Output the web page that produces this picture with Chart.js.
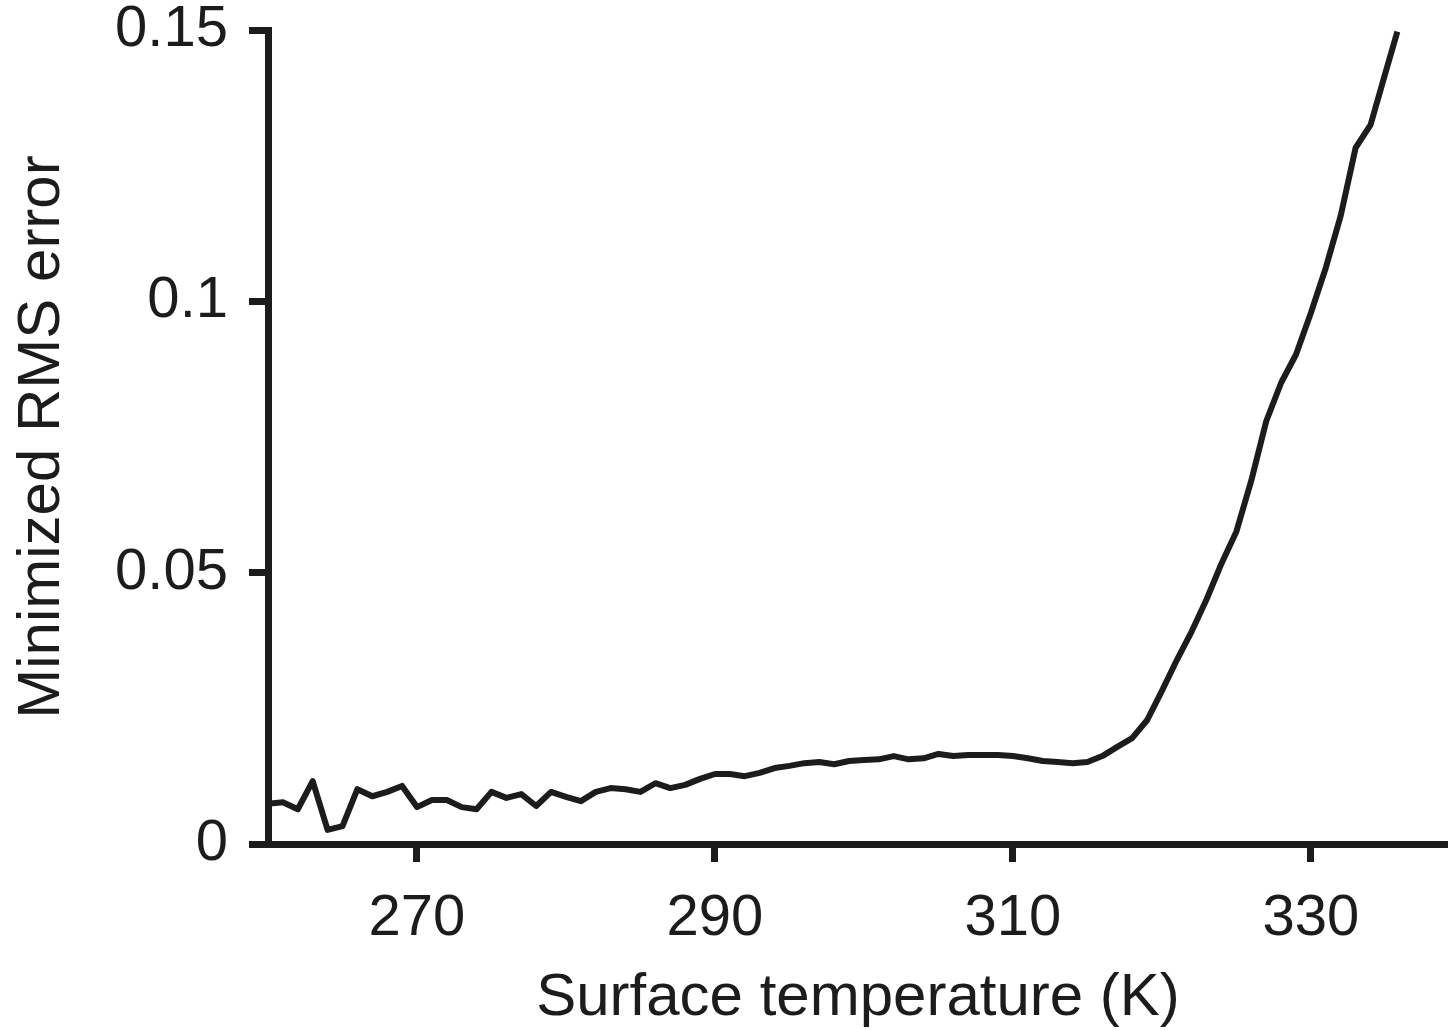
<!DOCTYPE html>
<html>
<head>
<meta charset="utf-8">
<title>Minimized RMS error vs surface temperature</title>
<script src="https://cdn.jsdelivr.net/npm/chart.js@4/dist/chart.umd.min.js"></script>
<style>
    html, body { margin: 0; padding: 0; background: #fff; }
    #chart { display: block; }
</style>
</head>
<body>
<canvas id="chart" width="1448" height="1030"></canvas>
<script>
// surface temperature (K), one sample per kelvin
const temps = [
    260, 261, 262, 263, 264, 265, 266, 267, 268, 269,
    270, 271, 272, 273, 274, 275, 276, 277, 278, 279,
    280, 281, 282, 283, 284, 285, 286, 287, 288, 289,
    290, 291, 292, 293, 294, 295, 296, 297, 298, 299,
    300, 301, 302, 303, 304, 305, 306, 307, 308, 309,
    310, 311, 312, 313, 314, 315, 316, 317, 318, 319,
    320, 321, 322, 323, 324, 325, 326, 327, 328, 329,
    330, 331, 332, 333, 334, 335, 335.8
];

// minimized RMS error
const rmsError = [
    0.0074, 0.0077, 0.0064, 0.0116, 0.0026, 0.0033, 0.0101, 0.0088, 0.0096, 0.0107,
    0.0068, 0.0081, 0.0081, 0.0068, 0.0064, 0.0096, 0.0085, 0.0092, 0.0070, 0.0096,
    0.0087, 0.0079, 0.0096, 0.0103, 0.0101, 0.0096, 0.0112, 0.0103, 0.0109, 0.0120,
    0.0129, 0.0129, 0.0125, 0.0131, 0.0140, 0.0144, 0.0149, 0.0151, 0.0147, 0.0153,
    0.0155, 0.0156, 0.0162, 0.0156, 0.0158, 0.0166, 0.0162, 0.0164, 0.0164, 0.0164,
    0.0162, 0.0158, 0.0153, 0.0151, 0.0149, 0.0151, 0.0162, 0.0179, 0.0195, 0.0228,
    0.0282, 0.0339, 0.0392, 0.0451, 0.0517, 0.0576, 0.0670, 0.0779, 0.0850, 0.0902,
    0.0979, 0.1062, 0.1158, 0.1283, 0.1325, 0.1421, 0.1497
];

const xTicks = [270, 290, 310, 330];
const yTicks = [0, 0.05, 0.1, 0.15];
const yTickLabels = ['0', '0.05', '0.1', '0.15'];

const ink = '#1e1b1c';
const fontFamily = "'Liberation Sans', Arial, Helvetica, sans-serif";

const points = temps.map((t, i) => ({ x: t, y: rmsError[i] }));

new Chart(document.getElementById('chart'), {
    type: 'line',
    data: {
        datasets: [{
            data: points,
            borderColor: ink,
            borderWidth: 6,
            borderJoinStyle: 'round',
            pointRadius: 0,
            tension: 0,
            fill: false
        }]
    },
    options: {
        responsive: false,
        animation: false,
        devicePixelRatio: 1,
        layout: { padding: { left: 0, top: 30, right: 0, bottom: 0 } },
        plugins: {
            legend: { display: false },
            tooltip: { enabled: false }
        },
        scales: {
            x: {
                type: 'linear',
                min: 260,
                max: 339.2,
                afterBuildTicks: scale => {
                    scale.ticks = xTicks.map(v => ({ value: v }));
                },
                afterFit: scale => {
                    scale.height = 186;
                    scale.paddingLeft = 0;
                    scale.paddingRight = 0;
                },
                border: { display: true, color: ink, width: 7 },
                grid: {
                    drawOnChartArea: false,
                    drawTicks: true,
                    tickLength: 18,
                    tickWidth: 7,
                    tickColor: ink
                },
                ticks: {
                    color: ink,
                    padding: 28,
                    maxRotation: 0,
                    font: { family: fontFamily, size: 58, lineHeight: 1 }
                },
                title: {
                    display: true,
                    text: 'Surface temperature (K)',
                    color: ink,
                    padding: { top: 0, bottom: 2 },
                    font: { family: fontFamily, size: 60, lineHeight: 1 }
                }
            },
            y: {
                min: 0,
                max: 0.15,
                afterBuildTicks: scale => {
                    scale.ticks = yTicks.map(v => ({ value: v }));
                },
                afterFit: scale => {
                    scale.width = 268;
                    scale.paddingTop = 0;
                    scale.paddingBottom = 0;
                },
                border: { display: true, color: ink, width: 7 },
                grid: {
                    drawOnChartArea: false,
                    drawTicks: true,
                    tickLength: 19,
                    tickWidth: 7,
                    tickColor: ink
                },
                ticks: {
                    color: ink,
                    padding: 21,
                    callback: (value, index) => yTickLabels[index],
                    font: { family: fontFamily, size: 58, lineHeight: 1 }
                },
                title: {
                    display: true,
                    text: 'Minimized RMS error',
                    color: ink,
                    padding: { top: 12, bottom: 0 },
                    font: { family: fontFamily, size: 60, lineHeight: 1 }
                }
            }
        }
    }
});
</script>
</body>
</html>
